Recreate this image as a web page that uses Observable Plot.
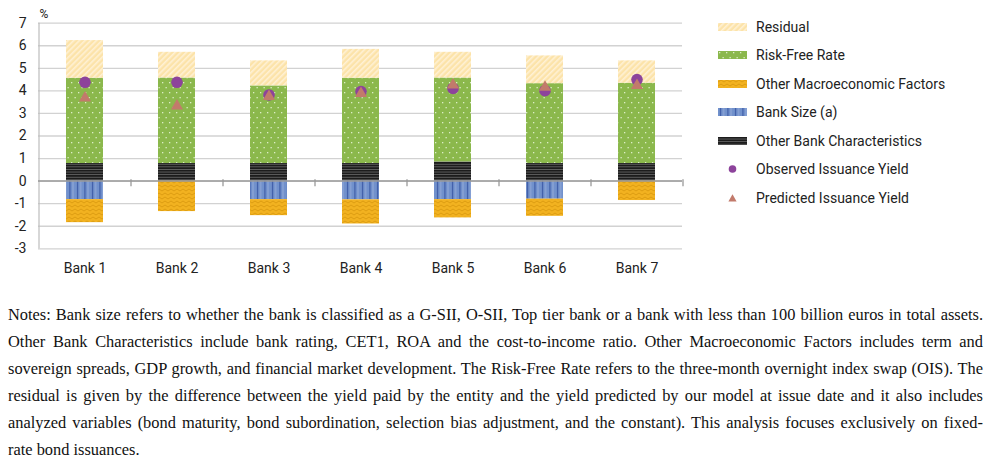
<!DOCTYPE html>
<html><head><meta charset="utf-8">
<script src="https://cdn.jsdelivr.net/npm/d3@7"></script>
<script src="https://cdn.jsdelivr.net/npm/@observablehq/plot@0.6"></script>
<style>
body{margin:0;background:#fff;width:987px;height:462px;overflow:hidden;position:relative;font-family:Roboto}
#chart{position:absolute;left:0;top:0}
#legend{position:absolute;left:718px;top:12.5px;font:14px Roboto;color:#222}
.row{height:28.5px;display:flex;align-items:center}
.row svg{margin-right:9px;display:block}
#notes{position:absolute;left:8px;top:300.5px;width:975px;font-family:"Liberation Serif";line-height:27px;color:#111}
#notes div{text-align:justify;text-align-last:justify}
#notes div.last{text-align-last:left}
</style></head>
<body>
<svg width="0" height="0" style="position:absolute">
<defs>
<pattern id="pResidual" patternUnits="userSpaceOnUse" width="4" height="4" patternTransform="rotate(45)">
<rect width="4" height="4" fill="#fce3a9"/><rect x="0" y="0" width="1.6" height="4" fill="#fff1d4"/>
</pattern>
<pattern id="pRisk" patternUnits="userSpaceOnUse" width="7" height="10">
<rect width="7" height="10" fill="#8bb84c"/>
<rect x="1" y="2" width="1.3" height="1.3" fill="#dcedc6"/>
<rect x="4.5" y="7" width="1.3" height="1.3" fill="#dcedc6"/>
</pattern>
<pattern id="pMacro" patternUnits="userSpaceOnUse" width="6" height="4">
<rect width="6" height="4" fill="#f2b220"/>
<path d="M0,3 L3,1 L6,3" fill="none" stroke="#d99a10" stroke-width="0.9"/>
</pattern>
<pattern id="pSize" patternUnits="userSpaceOnUse" width="7.5" height="10">
<rect width="7.5" height="10" fill="#7191cc"/>
<rect x="2" y="0" width="1" height="10" fill="#34529f"/>
<rect x="5.2" y="0" width="0.8" height="10" fill="#9fb3dd"/>
</pattern>
<pattern id="pOther" patternUnits="userSpaceOnUse" width="10" height="2.6">
<rect width="10" height="2.6" fill="#1c1c1c"/>
<rect x="0" y="0" width="10" height="0.8" fill="#6a6a6a"/>
</pattern>
</defs>
</svg>
<div id="chart"></div>
<div id="legend"></div>
<div id="notes"></div>
<script>
const banks = ["Bank 1","Bank 2","Bank 3","Bank 4","Bank 5","Bank 6","Bank 7"];
const otherBank = [0.78,0.78,0.78,0.78,0.85,0.78,0.78];
const riskFree  = [3.78,3.79,3.44,3.78,3.72,3.54,3.56];
const residual  = [1.67,1.14,1.11,1.28,1.14,1.23,0.99];
const bankSize  = [-0.82,0,-0.82,-0.83,-0.82,-0.80,0];
const macro     = [-1.02,-1.35,-0.71,-1.07,-0.81,-0.76,-0.86];
const observed  = [4.38,4.38,3.82,3.97,4.11,4.01,4.50];
const predicted = [3.68,3.33,3.75,3.88,4.26,4.16,4.24];
const yTicks = [-3,-2,-1,0,1,2,3,4,5,6,7];

const compNames = ["Other Bank Characteristics","Bank Size (a)","Risk-Free Rate","Other Macroeconomic Factors","Residual"];
const compValues = [otherBank, bankSize, riskFree, macro, residual];
const compFills = ["url(#pOther)","url(#pSize)","url(#pRisk)","url(#pMacro)","url(#pResidual)"];

const rows = compNames.flatMap((c, j) => banks.map((b, i) => ({bank: b, comp: c, value: compValues[j][i]})));
const obs = banks.map((b, i) => ({bank: b, v: observed[i]}));
const pred = banks.map((b, i) => ({bank: b, v: predicted[i]}));

const chart = Plot.plot({
  width: 690, height: 285,
  marginLeft: 38, marginRight: 8, marginTop: 22.7, marginBottom: 36.7,
  style: {fontFamily: "Roboto", fontSize: "14px", color: "#222", background: "white"},
  x: {domain: banks, paddingInner: 0.6, paddingOuter: 0.3},
  y: {domain: [-3, 7]},
  color: {type: "ordinal", domain: compNames, range: compFills},
  marks: [
    Plot.ruleY(yTicks, {stroke: "#d2d2d2", strokeWidth: 1.3}),
    Plot.ruleX([banks[0]], {x: d => d, dx: -46, y1: -3, y2: 7, stroke: "#bdbdbd", strokeWidth: 1.2}),
    Plot.barY(rows, {x: "bank", y: "value", z: "comp", fill: "comp"}),
    Plot.ruleY([0], {stroke: "#9a9a9a", strokeWidth: 1.5}),
    Plot.ruleX(banks, {x: d => d, dx: 46, y1: 0.06, y2: -0.25, stroke: "#9a9a9a", strokeWidth: 1.3}),
    Plot.dot(obs, {x: "bank", y: "v", r: 5.8, fill: "#8d439b"}),
    Plot.dot(pred, {x: "bank", y: "v", r: 4.5, symbol: "triangle", fill: "#c27a6b"}),
    Plot.text(["%"], {frameAnchor: "top-left", dx: 1, dy: -14, textAnchor: "start", fontSize: 12}),
    Plot.axisY(yTicks, {tickSize: 0, tickPadding: 12, label: null, tickFormat: d => String(d)}),
    Plot.axisX({tickSize: 0, tickPadding: 14, label: null})
  ]
});
document.getElementById("chart").appendChild(chart);

// Legend
const legendItems = [
  {label: "Residual", fill: "url(#pResidual)"},
  {label: "Risk-Free Rate", fill: "url(#pRisk)"},
  {label: "Other Macroeconomic Factors", fill: "url(#pMacro)"},
  {label: "Bank Size (a)", fill: "url(#pSize)"},
  {label: "Other Bank Characteristics", fill: "url(#pOther)"},
  {label: "Observed Issuance Yield", marker: "circle"},
  {label: "Predicted Issuance Yield", marker: "triangle"}
];
const legend = d3.select("#legend");
legendItems.forEach(it => {
  const row = legend.append("div").attr("class", "row");
  const s = row.append("svg").attr("width", 29).attr("height", 10);
  if (it.fill) s.append("rect").attr("x", 0).attr("y", 1).attr("width", 29).attr("height", 8).attr("fill", it.fill);
  else if (it.marker === "circle") s.append("circle").attr("cx", 14.5).attr("cy", 5).attr("r", 3.8).attr("fill", "#8d439b");
  else s.append("path").attr("d", "M14.5,1.2 L18.6,8.4 L10.4,8.4 Z").attr("fill", "#c27a6b");
  row.append("span").text(it.label);
});

// Notes
const noteLines = [
  "Notes: Bank size refers to whether the bank is classified as a G-SII, O-SII, Top tier bank or a bank with less than 100 billion euros in total assets.",
  "Other Bank Characteristics include bank rating, CET1, ROA and the cost-to-income ratio. Other Macroeconomic Factors includes term and",
  "sovereign spreads, GDP growth, and financial market development. The Risk-Free Rate refers to the three-month overnight index swap (OIS). The",
  "residual is given by the difference between the yield paid by the entity and the yield predicted by our model at issue date and it also includes",
  "analyzed variables (bond maturity, bond subordination, selection bias adjustment, and the constant). This analysis focuses exclusively on fixed-",
  "rate bond issuances."
];
const ctx = document.createElement("canvas").getContext("2d");
let fs = 16.6;
for (; fs > 12; fs -= 0.1) {
  ctx.font = fs + 'px "Liberation Serif"';
  if (Math.max(...noteLines.map(l => ctx.measureText(l).width)) <= 968) break;
}
const notes = d3.select("#notes").style("font-size", fs + "px");
noteLines.forEach((l, i) => notes.append("div").attr("class", i === noteLines.length - 1 ? "last" : null).text(l));
</script>
</body></html>
